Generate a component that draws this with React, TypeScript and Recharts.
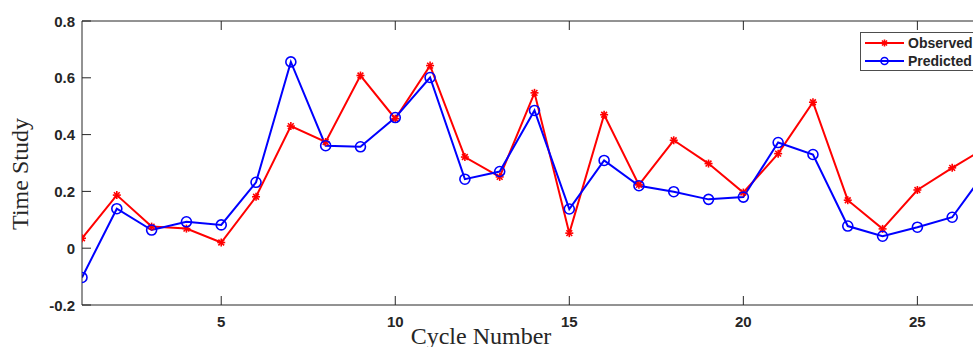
import { Legend, Line, LineChart, XAxis, YAxis } from "recharts";

const cycles = [
  1, 2, 3, 4, 5, 6, 7, 8, 9, 10, 11, 12, 13, 14, 15, 16, 17, 18, 19, 20, 21,
  22, 23, 24, 25, 26, 27,
];
const observed = [
  0.035, 0.187, 0.076, 0.069, 0.02, 0.181, 0.43, 0.374, 0.608, 0.456, 0.643,
  0.321, 0.251, 0.547, 0.053, 0.47, 0.223, 0.38, 0.298, 0.196, 0.333, 0.514,
  0.169, 0.068, 0.205, 0.283, 0.356,
];
const predicted = [
  -0.103, 0.139, 0.064, 0.093, 0.082, 0.232, 0.656, 0.361, 0.357, 0.46, 0.601,
  0.243, 0.27, 0.485, 0.138, 0.309, 0.22, 0.199, 0.172, 0.18, 0.372, 0.33,
  0.078, 0.042, 0.074, 0.109, 0.277,
];
const xTicks = [5, 10, 15, 20, 25];
const yTicks = [-0.2, 0, 0.2, 0.4, 0.6, 0.8];

const data = cycles.map((c, i) => ({
  cycle: c,
  observed: observed[i],
  predicted: predicted[i],
}));

const INK = "#262626";
const TICK_FONT = "'Liberation Sans', Arial, sans-serif";
const LABEL_FONT = "'Liberation Serif', 'Times New Roman', serif";

function Star({ cx, cy, r = 4 }: { cx: number; cy: number; r?: number }) {
  const d = r * 0.72;
  return (
    <g stroke="#ff0000" strokeWidth={1.6}>
      <line x1={cx - r} y1={cy} x2={cx + r} y2={cy} />
      <line x1={cx} y1={cy - r} x2={cx} y2={cy + r} />
      <line x1={cx - d} y1={cy - d} x2={cx + d} y2={cy + d} />
      <line x1={cx - d} y1={cy + d} x2={cx + d} y2={cy - d} />
    </g>
  );
}

function StarDot(props: any) {
  const { cx, cy, index } = props;
  if (cx == null || cy == null) return <g key={index} />;
  return <Star key={index} cx={cx} cy={cy} />;
}

function CircleDot(props: any) {
  const { cx, cy, index } = props;
  if (cx == null || cy == null) return <g key={index} />;
  return (
    <circle
      key={index}
      cx={cx}
      cy={cy}
      r={5}
      fill="none"
      stroke="#0000ff"
      strokeWidth={1.6}
    />
  );
}

function BottomTick(props: any) {
  const { x, y, payload } = props;
  return (
    <g>
      <line x1={x} y1={y} x2={x} y2={y - 9} stroke={INK} strokeWidth={1} />
      <text
        x={x}
        y={y + 21.5}
        textAnchor="middle"
        fill={INK}
        fontFamily={TICK_FONT}
        fontWeight="bold"
        fontSize={15}
      >
        {payload.value}
      </text>
    </g>
  );
}

function TopTick(props: any) {
  const { x, y } = props;
  return <line x1={x} y1={y} x2={x} y2={y + 9} stroke={INK} strokeWidth={1} />;
}

function LeftTick(props: any) {
  const { x, y, payload } = props;
  const v = Number(payload.value);
  const label = v === 0 ? "0" : v.toFixed(1);
  return (
    <g>
      <line x1={x} y1={y} x2={x + 9} y2={y} stroke={INK} strokeWidth={1} />
      <text
        x={x - 7}
        y={y + 5.5}
        textAnchor="end"
        fill={INK}
        fontFamily={TICK_FONT}
        fontWeight="bold"
        fontSize={15}
      >
        {label}
      </text>
    </g>
  );
}

function LegendBox() {
  const rows = [
    { name: "Observed", color: "#ff0000", marker: "star" },
    { name: "Predicted", color: "#0000ff", marker: "circle" },
  ];
  return (
    <div
      style={{
        width: 140,
        height: 39,
        border: "1px solid #4d4d4d",
        background: "#fff",
        boxSizing: "border-box",
        paddingTop: 1,
      }}
    >
      {rows.map((row) => (
        <div
          key={row.name}
          style={{ display: "flex", alignItems: "center", height: 18 }}
        >
          <svg width={46} height={18} style={{ display: "block" }}>
            <line
              x1={4}
              y1={9}
              x2={43}
              y2={9}
              stroke={row.color}
              strokeWidth={1.8}
            />
            {row.marker === "star" ? (
              <Star cx={23.5} cy={9} r={3.5} />
            ) : (
              <circle
                cx={23.5}
                cy={9}
                r={3.5}
                fill="none"
                stroke={row.color}
                strokeWidth={1.6}
              />
            )}
          </svg>
          <span
            style={{
              fontFamily: TICK_FONT,
              fontWeight: "bold",
              fontSize: 14,
              color: INK,
              marginLeft: 1,
            }}
          >
            {row.name}
          </span>
        </div>
      ))}
    </div>
  );
}

export default function App() {
  return (
    <div
      style={{
        position: "absolute",
        left: 0,
        top: 0,
        width: 973,
        height: 347,
        overflow: "hidden",
        background: "#fff",
      }}
    >
      <LineChart
        width={1000}
        height={347}
        data={data}
        margin={{ top: 0, right: 13, bottom: 0, left: 0 }}
      >
        <XAxis
          dataKey="cycle"
          type="number"
          domain={[1, 27]}
          ticks={xTicks}
          allowDataOverflow
          height={42}
          tickSize={0}
          tickMargin={0}
          tickLine={false}
          axisLine={{ stroke: INK, strokeWidth: 1 }}
          tick={<BottomTick />}
          interval={0}
          label={{
            content: () => (
              <text
                x={481}
                y={344}
                textAnchor="middle"
                fill={INK}
                fontFamily={LABEL_FONT}
                fontSize={24}
              >
                Cycle Number
              </text>
            ),
          }}
        />
        <XAxis
          xAxisId="top"
          dataKey="cycle"
          type="number"
          orientation="top"
          domain={[1, 27]}
          ticks={xTicks}
          allowDataOverflow
          height={21}
          tickSize={0}
          tickMargin={0}
          tickLine={false}
          axisLine={{ stroke: INK, strokeWidth: 1 }}
          tick={<TopTick />}
          interval={0}
        />
        <YAxis
          type="number"
          domain={[-0.2, 0.8]}
          ticks={yTicks}
          allowDataOverflow
          width={82}
          tickSize={0}
          tickMargin={0}
          tickLine={false}
          axisLine={{ stroke: INK, strokeWidth: 1 }}
          tick={<LeftTick />}
          interval={0}
          label={{
            content: () => (
              <text
                x={28}
                y={174}
                transform="rotate(-90, 28, 174)"
                textAnchor="middle"
                fill={INK}
                fontFamily={LABEL_FONT}
                fontSize={24}
              >
                Time Study
              </text>
            ),
          }}
        />
        <Legend
          layout="vertical"
          align="center"
          verticalAlign="middle"
          content={() => <LegendBox />}
          wrapperStyle={{ left: 860, top: 32, width: 140 }}
        />
        <Line
          dataKey="observed"
          name="Observed"
          stroke="#ff0000"
          strokeWidth={2}
          dot={<StarDot />}
          activeDot={false}
          isAnimationActive={false}
        />
        <Line
          dataKey="predicted"
          name="Predicted"
          stroke="#0000ff"
          strokeWidth={2}
          dot={<CircleDot />}
          activeDot={false}
          isAnimationActive={false}
        />
      </LineChart>
    </div>
  );
}
